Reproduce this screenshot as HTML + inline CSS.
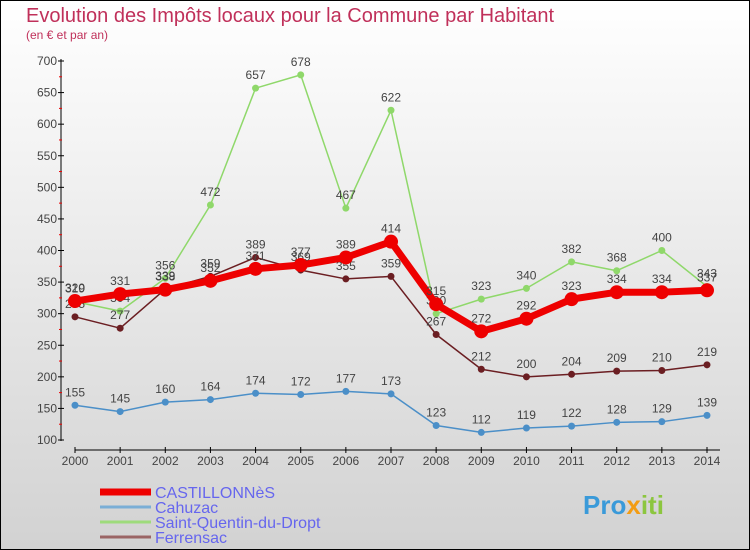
<!DOCTYPE html>
<html><head><meta charset="utf-8"><style>
body{margin:0}
svg{display:block;font-family:"Liberation Sans",sans-serif}
</style></head><body>
<svg id="c" width="750" height="550">
<defs><linearGradient id="bg" x1="0" y1="0" x2="0" y2="1"><stop offset="0" stop-color="#ffffff"/><stop offset="1" stop-color="#d2d2d2"/></linearGradient></defs>
<rect x="0.5" y="0.5" width="749" height="549" fill="url(#bg)" stroke="#000"/>
<text x="26" y="22" font-size="20" fill="#c0305a">Evolution des Impôts locaux pour la Commune par Habitant</text>
<text x="26" y="39" font-size="12" fill="#c0305a">(en € et par an)</text>
<g id="axes"></g><g id="series"></g><g id="legend"></g>
<text x="583" y="514" font-size="26" font-weight="bold" fill="#3a9ad9">Pro<tspan fill="#f39c12">x</tspan><tspan fill="#8cc63f">iti</tspan></text>
</svg>
<script>
const years=[2000,2001,2002,2003,2004,2005,2006,2007,2008,2009,2010,2011,2012,2013,2014];
const castillonnes=[320,331,338,352,371,377,389,414,315,272,292,323,334,334,337];
const cahuzac=[155,145,160,164,174,172,177,173,123,112,119,122,128,129,139];
const saintQuentin=[319,304,356,472,657,678,467,622,300,323,340,382,368,400,343];
const ferrensac=[295,277,339,359,389,369,355,359,267,212,200,204,209,210,219];
const yTicks=[100,150,200,250,300,350,400,450,500,550,600,650,700];
const NS='http://www.w3.org/2000/svg';
const X=i=>75+i*(707-75)/(years.length-1);
const Y=v=>440-(v-100)*(440-61)/600;
function mk(t,a,p){const e=document.createElementNS(NS,t);for(const k in a)e.setAttribute(k,a[k]);p.appendChild(e);return e;}
const ax=document.getElementById('axes');
let e=mk('line',{x1:61,y1:59,x2:61,y2:441,stroke:'#000'},ax);


e=mk('line',{x1:75,y1:450,x2:720,y2:450,stroke:'#000'},ax);


yTicks.forEach(v=>{
 mk('line',{x1:58,y1:Y(v),x2:64,y2:Y(v),stroke:'#000'},ax);
 if(v<700)mk('line',{x1:59,y1:Y(v+25),x2:62,y2:Y(v+25),stroke:'#e00'},ax);
 const t=mk('text',{x:57,y:Y(v)+4,'font-size':12,fill:'#444','text-anchor':'end'},ax);t.textContent=v;
 
 
});
years.forEach((y,i)=>{
 mk('line',{x1:X(i),y1:447,x2:X(i),y2:453,stroke:'#000'},ax);
 const t=mk('text',{x:X(i),y:465,'font-size':12,fill:'#444','text-anchor':'middle'},ax);t.textContent=y;
 
 
});
const sg=document.getElementById('series');
function series(vals,col,w,r,name){
 const g=mk('g',{},sg);
 
 
 mk('polyline',{points:vals.map((v,i)=>X(i)+','+Y(v)).join(' '),fill:'none',stroke:col,'stroke-width':w,'stroke-linejoin':'round'},g);
 vals.forEach((v,i)=>{
  const c=mk('circle',{cx:X(i),cy:Y(v),r:r,fill:col},g);
  
  
  const t=mk('text',{x:X(i),y:Y(v)-9,'font-size':12,fill:'#444','text-anchor':'middle'},g);t.textContent=v;
 });
}
series(cahuzac,'#4b8fc8',1.5,3.5,'cahuzac-series');
series(saintQuentin,'#8fd86a',1.5,3.5,'saint-quentin-series');
series(ferrensac,'#6b1e22',1.5,3.5,'ferrensac-series');
series(castillonnes,'#ee0000',7,7,'castillonnes-series');
const lg=document.getElementById('legend');
const names=['CASTILLONNèS','Cahuzac','Saint-Quentin-du-Dropt','Ferrensac'];
const cols=['#ee0000','#7aaed6','#9edb7c','#9a6464'];
const ws=[7,3,3,3];
names.forEach((n,i)=>{
 const y=492+i*15;
 const g=mk('g',{},lg);
 
 
 mk('line',{x1:100,y1:y,x2:151,y2:y,stroke:cols[i],'stroke-width':ws[i]},g);
 const t=mk('text',{x:155,y:y+6,'font-size':16,fill:'#6666ee'},g);t.textContent=n;
});
</script>
</body></html>
